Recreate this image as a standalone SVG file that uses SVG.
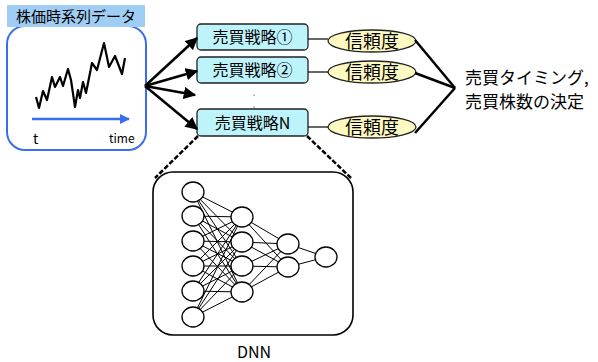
<svg xmlns="http://www.w3.org/2000/svg" width="598" height="362" viewBox="0 0 598 362">
  <defs>
    <marker id="arrow" viewBox="0 0 10 10" refX="9" refY="5" markerWidth="5" markerHeight="5" orient="auto" markerUnits="strokeWidth">
      <path d="M0,0 L10,5 L0,10 z" fill="#000"/>
    </marker>
    <marker id="bluearrow" viewBox="0 0 10 10" refX="9" refY="5" markerWidth="4" markerHeight="4" orient="auto" markerUnits="strokeWidth">
      <path d="M0,0 L10,5 L0,10 z" fill="#3a6ef0"/>
    </marker>
  </defs>
  <style>
    text { font-family: "Noto Sans CJK JP", "Liberation Sans", sans-serif; fill: #000; }
    .strategy rect { fill: #bdf3fb; stroke: #222; stroke-width: 1.3; }
    .strategy text { font-size: 16px; text-anchor: middle; }
    .conf ellipse { fill: #fdf9c0; stroke: #222; stroke-width: 1.3; }
    .conf text { font-size: 18px; text-anchor: middle; }
    .link { stroke: #000; stroke-width: 2.5; fill: none; }
    .thin { stroke: #000; stroke-width: 1.2; fill: none; }
    .neuron { fill: #fff; stroke: #000; stroke-width: 1.3; }
    .syn { stroke: #000; stroke-width: 1; }
  </style>

  <!-- time-series input panel -->
  <g id="series">
    <rect x="7" y="26" width="139" height="124" rx="18" fill="#fff" stroke="#3a6ef0" stroke-width="2"/>
    <rect x="7" y="5" width="138" height="22" fill="#9fcdf3"/>
    <text x="76" y="22" font-size="15" text-anchor="middle">株価時系列データ</text>
    <polyline fill="none" stroke="#000" stroke-width="2.2" stroke-linejoin="round"
      points="36,97 39,108 43,91 47,100 52,77 55,87 60,77 63,86 68,69 71,80 75,107 78,90 80,98 83,82 86,93 92,63 97,70 104,43 109,67 115,56 122,74 125,58"/>
    <line x1="32" y1="119" x2="129" y2="119" stroke="#3a6ef0" stroke-width="2.5" marker-end="url(#bluearrow)"/>
    <text x="33" y="144" font-size="14" font-family="Liberation Sans, sans-serif">t</text>
    <text x="109" y="143" font-size="12" font-family="Liberation Sans, sans-serif">time</text>
  </g>

  <!-- trading strategies -->
  <g id="strategy1" class="strategy">
    <rect x="197" y="24" width="111" height="26" rx="4"/>
    <text x="252.5" y="43">売買戦略①</text>
  </g>
  <g id="strategy2" class="strategy">
    <rect x="197" y="57" width="111" height="26" rx="4"/>
    <text x="252.5" y="76">売買戦略②</text>
  </g>
  <g id="strategyN" class="strategy">
    <rect x="197" y="109" width="111" height="27" rx="4"/>
    <text x="252.5" y="129">売買戦略N</text>
  </g>
  <g id="ellipsis">
    <circle cx="254" cy="95" r="0.6" fill="#000"/>
    <circle cx="254" cy="107" r="0.6" fill="#000"/>
  </g>

  <!-- confidence scores -->
  <g id="conf1" class="conf">
    <ellipse cx="372" cy="41" rx="44" ry="11"/>
    <text x="372" y="48">信頼度</text>
  </g>
  <g id="conf2" class="conf">
    <ellipse cx="372" cy="72" rx="44" ry="11"/>
    <text x="372" y="79">信頼度</text>
  </g>
  <g id="conf3" class="conf">
    <ellipse cx="372" cy="127" rx="44" ry="11"/>
    <text x="372" y="134">信頼度</text>
  </g>

  <!-- decision output -->
  <g id="decision">
    <text x="465" y="84" font-size="17">売買タイミング,</text>
    <text x="465" y="108" font-size="17">売買株数の決定</text>
  </g>

  <!-- DNN detail -->
  <g id="dnn">
    <rect x="153" y="172" width="200" height="163" rx="20" fill="#fff" stroke="#000" stroke-width="1.6"/>
    <g class="syn">
      <!-- layer 1 to layer 2 -->
      <path d="M193,192 L242,217 M193,192 L242,242 M193,192 L242,266 M193,192 L242,292
               M193,216 L242,217 M193,216 L242,242 M193,216 L242,266 M193,216 L242,292
               M193,241 L242,217 M193,241 L242,242 M193,241 L242,266 M193,241 L242,292
               M193,266 L242,217 M193,266 L242,242 M193,266 L242,266 M193,266 L242,292
               M193,291 L242,217 M193,291 L242,242 M193,291 L242,266 M193,291 L242,292
               M193,317 L242,217 M193,317 L242,242 M193,317 L242,266 M193,317 L242,292"/>
      <!-- layer 2 to layer 3 -->
      <path d="M242,217 L288,244 M242,217 L288,267 M242,242 L288,244 M242,242 L288,267
               M242,266 L288,244 M242,266 L288,267 M242,292 L288,244 M242,292 L288,267"/>
      <!-- layer 3 to output -->
      <path d="M288,244 L326,257 M288,267 L326,257"/>
    </g>
    <g class="neuron">
      <ellipse cx="193" cy="192" rx="11" ry="10"/>
      <ellipse cx="193" cy="216" rx="11" ry="10"/>
      <ellipse cx="193" cy="241" rx="11" ry="10"/>
      <ellipse cx="193" cy="266" rx="11" ry="10"/>
      <ellipse cx="193" cy="291" rx="11" ry="10"/>
      <ellipse cx="193" cy="317" rx="11" ry="10"/>
      <ellipse cx="242" cy="217" rx="11" ry="10"/>
      <ellipse cx="242" cy="242" rx="11" ry="10"/>
      <ellipse cx="242" cy="266" rx="11" ry="10"/>
      <ellipse cx="242" cy="292" rx="11" ry="10"/>
      <ellipse cx="288" cy="244" rx="11" ry="10"/>
      <ellipse cx="288" cy="267" rx="11" ry="10"/>
      <ellipse cx="326" cy="257" rx="11" ry="10"/>
    </g>
    <text x="254" y="358" font-size="16" text-anchor="middle" font-family="Liberation Sans, sans-serif">DNN</text>
  </g>

  <!-- connectors -->
  <g id="connectors">
    <line class="link" x1="145" y1="86" x2="197" y2="38" marker-end="url(#arrow)"/>
    <line class="link" x1="145" y1="86" x2="197" y2="71" marker-end="url(#arrow)"/>
    <line class="link" x1="145" y1="86" x2="195" y2="95" marker-end="url(#arrow)"/>
    <line class="link" x1="145" y1="86" x2="197" y2="129" marker-end="url(#arrow)"/>
    <line class="thin" x1="308" y1="39" x2="328" y2="39"/>
    <line class="thin" x1="308" y1="72" x2="328" y2="72"/>
    <line class="thin" x1="308" y1="127" x2="328" y2="127"/>
    <line class="link" x1="415" y1="40" x2="455" y2="88"/>
    <line class="link" x1="415" y1="73" x2="455" y2="88"/>
    <line class="link" x1="415" y1="133" x2="455" y2="88"/>
    <line stroke="#000" stroke-width="2.5" stroke-dasharray="5,2" x1="198" y1="136" x2="155" y2="178"/>
    <line stroke="#000" stroke-width="2.5" stroke-dasharray="5,2" x1="307" y1="136" x2="351" y2="178"/>
  </g>
</svg>
